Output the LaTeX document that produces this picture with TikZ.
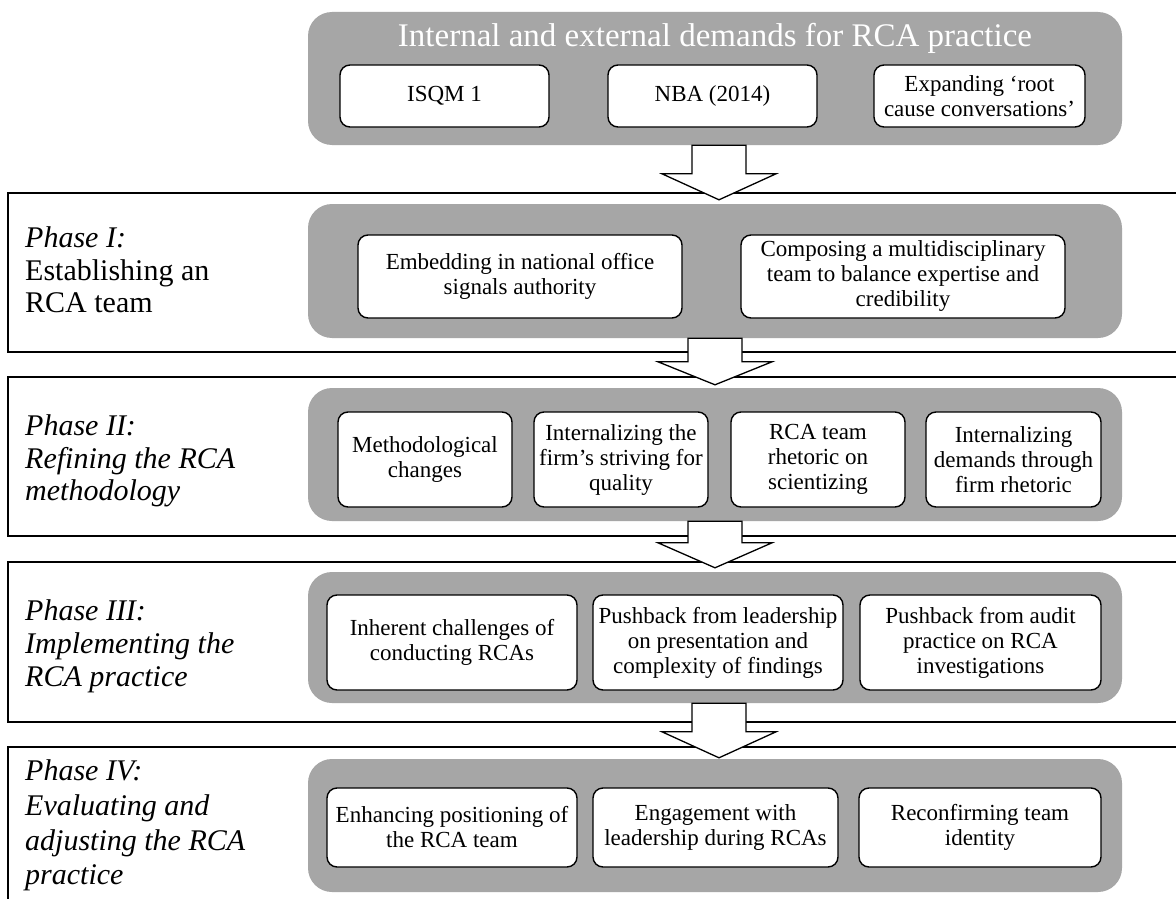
\documentclass[tikz,border=0pt]{standalone}
\usepackage{fontspec}
\setmainfont{Liberation Serif}
\usetikzlibrary{calc}
\definecolor{grayfill}{HTML}{A6A6A6}
\newcommand\boxfont{\fontsize{23}{25}\selectfont}
\newcommand\phasefont{\fontsize{30}{33}\selectfont}
\tikzset{
 graybox/.style={fill=grayfill, rounded corners=24pt, inner sep=0pt, draw=none},
 wbox/.style={draw=black, line width=1.4pt, fill=white, rounded corners=10pt, align=center, inner sep=2pt, font=\boxfont},
 phaseframe/.style={draw=black, line width=1.5pt},
 blockarr/.style={draw=black, line width=1.3pt, fill=white, line join=miter},
 phasetxt/.style={anchor=base west, inner sep=0pt, font=\phasefont},
}
% #1 from node, #2 to node, #3 x shift, #4 head length, #5 gap above target
\newcommand\flowarrow[5]{%
\draw[blockarr] let \p1=(#1.south), \p2=(#2.north) in
 ({\x1+#3-27pt},\y1) -- ({\x1+#3-27pt},{\y2+#5+#4}) -- ({\x1+#3-57pt},{\y2+#5+#4})
 -- ({\x1+#3},{\y2+#5}) -- ({\x1+#3+57pt},{\y2+#5+#4}) -- ({\x1+#3+27pt},{\y2+#5+#4})
 -- ({\x1+#3+27pt},\y1) -- cycle;}
\begin{document}
\begin{tikzpicture}[x=1pt,y=-1pt]
\useasboundingbox (0,0) rectangle (1176,899);
\clip (0,0) rectangle (1176,899);
\fill[white] (0,0) rectangle (1176,899);

% phase frames
\draw[phaseframe] (8,193) rectangle (1195,352);
\draw[phaseframe] (8,377) rectangle (1195,536);
\draw[phaseframe] (8,562) rectangle (1195,722);
\draw[phaseframe] (8,747) rectangle (1195,930);

% gray panels
\node[graybox, minimum width=814pt, minimum height=133pt] (g0) at (715,78.5) {};
\node[graybox, minimum width=814pt, minimum height=134pt] (g1) at (715,271) {};
\node[graybox, minimum width=814pt, minimum height=133pt] (g2) at (715,454.5) {};
\node[graybox, minimum width=814pt, minimum height=131pt] (g3) at (715,637.5) {};
\node[graybox, minimum width=814pt, minimum height=133pt] (g4) at (715,825.5) {};

% title
\node[anchor=base, text=white, font=\fontsize{33}{36}\selectfont, inner sep=0pt] (title) at (715,47) {Internal and external demands for RCA practice};

% top boxes
\node[wbox, minimum width=209pt, minimum height=62pt] (isqm) at (444.5,96) {ISQM 1};
\node[wbox, minimum width=209pt, minimum height=62pt] (nba) at (712.5,96) {NBA (2014)};
\node[wbox, minimum width=211pt, minimum height=62pt] (expand) at (979.5,96) {Expanding ‘root\\cause conversations’};

% phase I boxes
\node[wbox, minimum width=324pt, minimum height=83pt] (embed) at (520,276.5) {Embedding in national office\\signals authority};
\node[wbox, minimum width=324pt, minimum height=83pt] (compose) at (903,276.5) {Composing a multidisciplinary\\team to balance expertise and\\credibility};

% phase II boxes
\node[wbox, minimum width=174pt, minimum height=95pt] (method) at (425,459.5) {Methodological\\changes};
\node[wbox, minimum width=174pt, minimum height=95pt] (intfirm) at (621,459.5) {Internalizing the\\firm’s striving for\\quality};
\node[wbox, minimum width=174pt, minimum height=95pt] (rhetoric) at (818,459.5) {RCA team\\rhetoric on\\scientizing};
\node[wbox, minimum width=175pt, minimum height=95pt] (intdem) at (1013.5,459.5) {Internalizing\\demands through\\firm rhetoric};

% phase III boxes
\node[wbox, minimum width=250pt, minimum height=95pt] (inherent) at (452,642.5) {Inherent challenges of\\conducting RCAs};
\node[wbox, minimum width=250pt, minimum height=95pt] (pushlead) at (718,642.5) {Pushback from leadership\\on presentation and\\complexity of findings};
\node[wbox, minimum width=241pt, minimum height=95pt] (pushaudit) at (980.5,642.5) {Pushback from audit\\practice on RCA\\investigations};

% phase IV boxes
\node[wbox, minimum width=250pt, minimum height=79pt] (enhance) at (452,827.5) {Enhancing positioning of\\the RCA team};
\node[wbox, minimum width=245pt, minimum height=79pt] (engage) at (715.5,827.5) {Engagement with\\leadership during RCAs};
\node[wbox, minimum width=242pt, minimum height=79pt] (reconf) at (980,827.5) {Reconfirming team\\identity};

% phase labels
\node[phasetxt] (p1a) at (25,247) {\itshape Phase I:};
\node[phasetxt] (p1b) at (25,280) {Establishing an};
\node[phasetxt] (p1c) at (25,312) {RCA team};

\node[phasetxt] (p2a) at (25,435) {\itshape Phase II:};
\node[phasetxt] (p2b) at (25,468) {\itshape Refining the RCA};
\node[phasetxt] (p2c) at (25,500) {\itshape methodology};

\node[phasetxt] (p3a) at (25,620) {\itshape Phase III:};
\node[phasetxt] (p3b) at (25,653) {\itshape Implementing the};
\node[phasetxt] (p3c) at (25,686) {\itshape RCA practice};

\node[phasetxt] (p4a) at (25,780) {\itshape Phase IV:};
\node[phasetxt] (p4b) at (25,815) {\itshape Evaluating and};
\node[phasetxt] (p4c) at (25,850) {\itshape adjusting the RCA};
\node[phasetxt] (p4d) at (25,884) {\itshape practice};

% block arrows
\flowarrow{g0}{g1}{4pt}{26pt}{4pt}
\flowarrow{g1}{g2}{0pt}{23pt}{3pt}
\flowarrow{g2}{g3}{0pt}{25pt}{4pt}
\flowarrow{g3}{g4}{4pt}{26pt}{1pt}
\end{tikzpicture}
\end{document}
